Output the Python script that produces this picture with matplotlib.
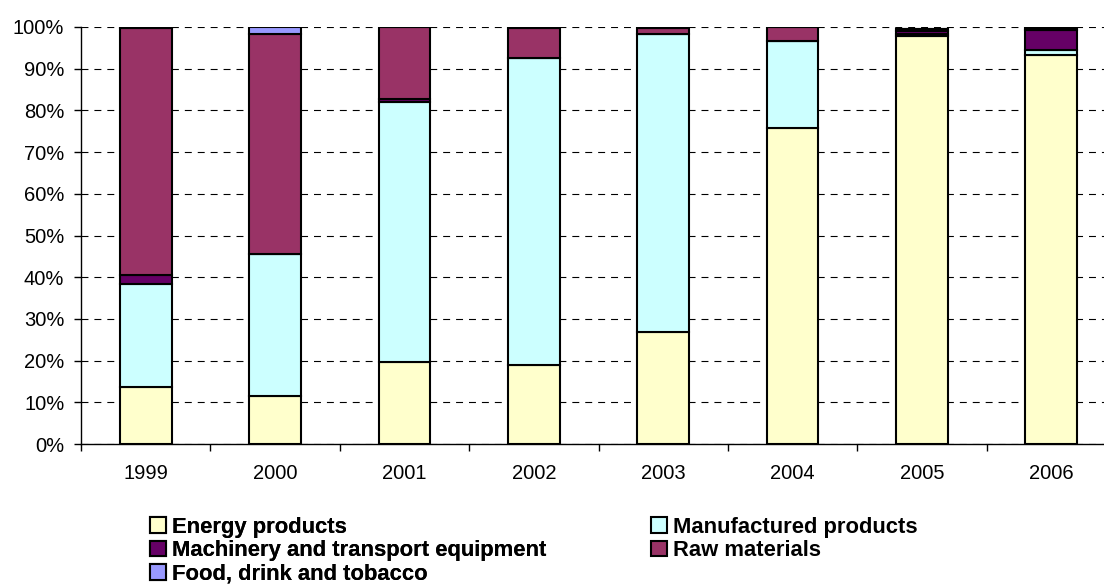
import matplotlib
matplotlib.use("Agg")
import matplotlib.pyplot as plt
import numpy as np
from matplotlib.ticker import FixedLocator, PercentFormatter
from matplotlib.patches import Patch

plt.rcParams['font.family'] = ['Liberation Sans', 'DejaVu Sans']
plt.rcParams['lines.scale_dashes'] = False

years = ['1999', '2000', '2001', '2002', '2003', '2004', '2005', '2006']

# Share of exports by product group (% of total)
energy = [13.6, 11.5, 19.7, 19.0, 26.9, 75.8, 97.8, 93.3]
manufactured = [24.7, 34.0, 62.3, 73.6, 71.4, 20.8, 0.6, 1.2]
machinery = [2.2, 0.0, 0.7, 0.0, 0.0, 0.0, 0.6, 4.8]
raw_materials = [59.2, 52.8, 17.2, 7.2, 1.4, 3.3, 0.6, 0.5]
food = [0.3, 1.7, 0.0, 0.0, 0.0, 0.0, 0.0, 0.0]

series = [
    ('Energy products', energy, '#FFFFCC'),
    ('Manufactured products', manufactured, '#CCFFFF'),
    ('Machinery and transport equipment', machinery, '#660066'),
    ('Raw materials', raw_materials, '#993366'),
    ('Food, drink and tobacco', food, '#9999FF'),
]

fig = plt.figure(figsize=(11.04, 5.86), dpi=100)
ax = fig.add_axes([81 / 1104, 142 / 586, 1035 / 1104, 417 / 586])

x = np.arange(len(years))
bottom = np.zeros(len(years))
for name, vals, color in series:
    v = np.array(vals)
    ax.bar(x, v, width=0.4, bottom=bottom, color=color, edgecolor='black',
           linewidth=1.5, zorder=3)
    bottom += v

ax.set_xlim(-0.5, len(years) - 0.5)
ax.set_ylim(0, 100)
ax.yaxis.set_major_locator(FixedLocator(np.arange(0, 101, 10)))
ax.yaxis.set_major_formatter(PercentFormatter(decimals=0))
ax.yaxis.grid(True, linestyle=(0, (5.0, 4.3)), color='black', linewidth=0.8, zorder=0)

# category boundaries carry the ticks, centres carry the labels
ax.xaxis.set_major_locator(FixedLocator(np.arange(-0.5, len(years), 1.0)))
ax.xaxis.set_major_formatter(plt.NullFormatter())
ax.xaxis.set_minor_locator(FixedLocator(x))
ax.set_xticklabels(years, minor=True)
ax.tick_params(axis='x', which='major', direction='out', length=5, width=1)
ax.tick_params(axis='x', which='minor', length=0, pad=14.5, labelsize=14.5)
ax.tick_params(axis='y', direction='out', length=5, width=1, labelsize=14.5, pad=7)

for s in ['top', 'right']:
    ax.spines[s].set_visible(False)
for s in ['left', 'bottom']:
    ax.spines[s].set_linewidth(1)
    ax.spines[s].set_color('black')

handles = {name: Patch(facecolor=color, edgecolor='black', linewidth=1.5)
           for name, _, color in series}
legend_kw = dict(loc='upper left', frameon=False,
                 prop={'weight': 'bold', 'size': 15.8},
                 handlelength=0.73, handleheight=0.73, handletextpad=0.25,
                 labelspacing=0.1, borderaxespad=0, borderpad=0)

left_col = ['Energy products', 'Machinery and transport equipment', 'Food, drink and tobacco']
right_col = ['Manufactured products', 'Raw materials']
leg1 = fig.legend([handles[n] for n in left_col], left_col,
                  bbox_to_anchor=(150 / 1104, 1 - 517 / 586), **legend_kw)
fig.add_artist(leg1)
fig.legend([handles[n] for n in right_col], right_col,
           bbox_to_anchor=(651 / 1104, 1 - 517 / 586), **legend_kw)

fig.savefig('out.png', dpi=100)
